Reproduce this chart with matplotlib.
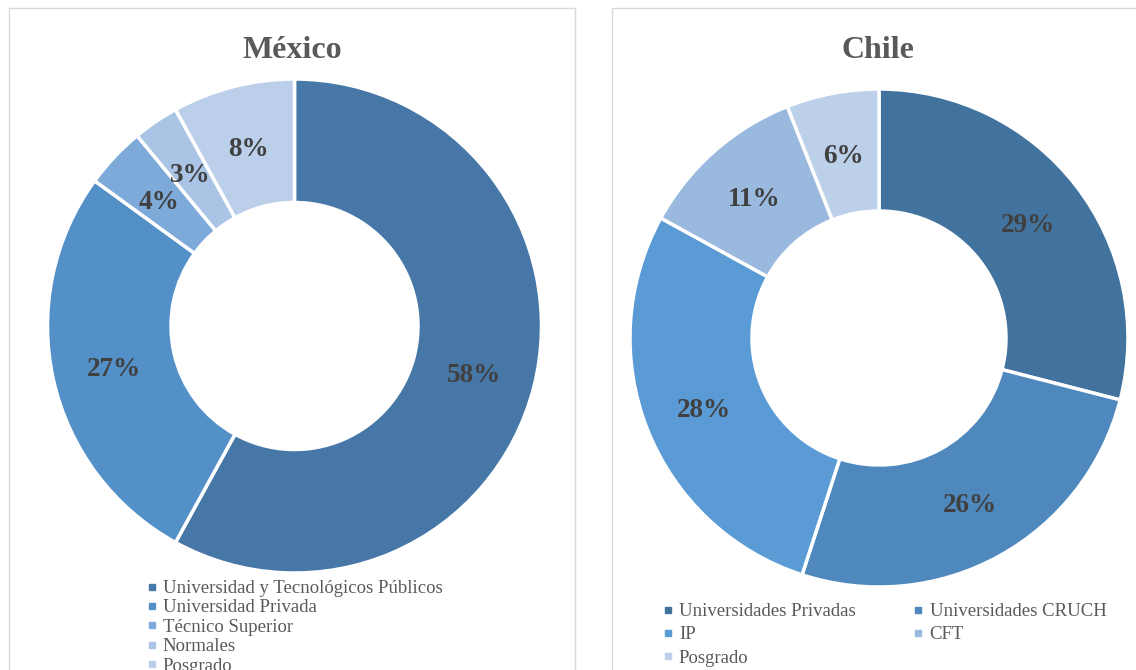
import matplotlib
matplotlib.use("Agg")
import matplotlib.pyplot as plt
from matplotlib.patches import Rectangle
from matplotlib.lines import Line2D
import numpy as np

# ---- data ----
mx_title = "México"
mx_labels = ["Universidad y Tecnológicos Públicos", "Universidad Privada",
             "Técnico Superior", "Normales", "Posgrado"]
mx_values = [58, 27, 4, 3, 8]

cl_title = "Chile"
cl_labels = ["Universidades Privadas", "Universidades CRUCH", "IP", "CFT", "Posgrado"]
cl_values = [29, 26, 28, 11, 6]

# ---- style ----
mx_colors = ["#4677a7", "#5490c8", "#7eaada", "#a9c4e5", "#bccfea"]
cl_colors = ["#42739f", "#4e88bd", "#5b9bd5", "#9ab9df", "#bcd0ea"]

W, H = 1136, 670
fig = plt.figure(figsize=(W / 100, H / 100), dpi=100)
plt.rcParams['font.family'] = ['Liberation Serif', 'DejaVu Serif']

def fx(x):
    return x / W

def fy(y):
    return 1 - y / H

# panel borders
for (x0, x1) in [(9, 575), (612, 1150)]:
    fig.add_artist(Rectangle((fx(x0), fy(700)), fx(x1) - fx(x0), fy(8) - fy(700),
                             transform=fig.transFigure, fill=False,
                             edgecolor="#d9d9d9", linewidth=1.0))

def donut(cx, cy, R, values, colors, inner):
    ax = fig.add_axes([fx(cx - R), fy(cy + R), 2 * R / W, 2 * R / H])
    ax.axis('off')
    wedges, _ = ax.pie(values, colors=colors, startangle=90, counterclock=False,
                       radius=1.0,
                       wedgeprops=dict(width=1 - inner, edgecolor='white', linewidth=2.5))
    ax.set_xlim(-1, 1)
    ax.set_ylim(-1, 1)
    ax.set_aspect('equal')
    rmid = (1 + inner) / 2
    for w, v in zip(wedges, values):
        ang = np.deg2rad((w.theta1 + w.theta2) / 2)
        ax.text(rmid * np.cos(ang), rmid * np.sin(ang), f"{v}%",
                ha='center', va='center_baseline', fontsize=19.5, fontweight='bold',
                color='#404040')
    return ax, wedges

ax1, w1 = donut(294.5, 326, 247, mx_values, mx_colors, 0.50)
ax2, w2 = donut(879, 338, 249, cl_values, cl_colors, 0.51)

fig.text(fx(292), fy(50), mx_title, ha='center', va='center', fontsize=23,
         fontweight='bold', color='#595959')
fig.text(fx(878), fy(50), cl_title, ha='center', va='center', fontsize=23,
         fontweight='bold', color='#595959')

def handles(colors):
    return [Line2D([], [], marker='s', linestyle='none', markersize=5,
                   markerfacecolor=c, markeredgecolor=c) for c in colors]

h1 = handles(mx_colors)
fig.legend(h1, mx_labels, loc='upper left', bbox_to_anchor=(fx(146), fy(580)),
           frameon=False, fontsize=13.5, labelcolor='#595959', borderpad=0,
           handlelength=0.6, handletextpad=0.3, labelspacing=0.12,
           borderaxespad=0)

h2 = handles(cl_colors)
order = [0, 2, 4, 1, 3]
fig.legend([h2[i] for i in order], [cl_labels[i] for i in order], loc='upper left',
           bbox_to_anchor=(fx(662), fy(603)), ncol=2,
           frameon=False, fontsize=13.5, labelcolor='#595959', borderpad=0,
           handlelength=0.6, handletextpad=0.3, labelspacing=0.33,
           columnspacing=3.05, borderaxespad=0)

fig.savefig("out.png", dpi=100, facecolor='white')
